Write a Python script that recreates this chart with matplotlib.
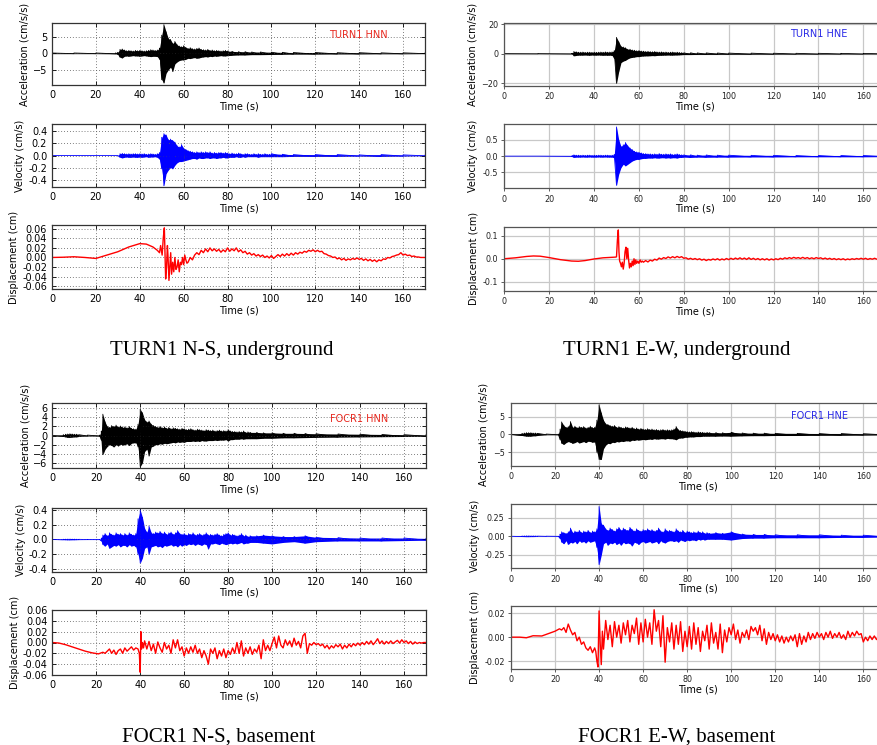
import numpy as np
import matplotlib
matplotlib.use("Agg")
import matplotlib.pyplot as plt

FIG_W, FIG_H = 878, 745

# ---------------- TURN1 (underground) ----------------
# acceleration N-S, envelope knots (cm/s/s)
acc_tn_t = np.r_[[0, 10, 20, 29, 30], np.arange(31, 81), [82, 85, 88, 91, 95, 100, 105, 110, 120, 130, 140, 150, 160, 170]]
acc_tn_hi = [0.1, 0.1, 0.1, 0.15, 0.3,
             1.2, 1.3, 1.0, 0.8, 0.9, 0.8, 0.7, 0.9, 0.8, 0.9,
             0.8, 0.7, 0.8, 0.9, 1.1, 1.0, 0.9, 1.0, 1.6, 5.5,
             8.7, 6.5, 4.5, 4.2, 3.0, 3.6, 2.6, 2.2, 2.0, 2.3,
             1.8, 1.5, 1.7, 1.4, 1.3, 1.5, 1.6, 1.2, 1.1, 1.0,
             1.2, 0.9, 1.0, 0.8, 0.9, 0.8, 0.7, 0.8, 0.9, 0.7,
             0.6, 0.5, 0.5, 0.4, 0.4, 0.35, 0.3, 0.25, 0.25, 0.2, 0.2, 0.15, 0.15, 0.1]
acc_tn_lo = [-0.1, -0.1, -0.1, -0.15, -0.3,
             -1.2, -1.4, -0.9, -0.8, -0.9, -0.8, -0.7, -0.8, -0.8, -0.9,
             -0.8, -0.7, -0.8, -0.9, -1.0, -0.9, -0.9, -1.0, -1.8, -8.0,
             -9.0, -6.0, -5.0, -4.2, -5.5, -3.2, -2.6, -2.2, -2.0, -2.0,
             -1.8, -1.5, -1.6, -1.4, -1.3, -1.5, -1.4, -1.2, -1.1, -1.0,
             -1.1, -0.9, -1.0, -0.8, -0.9, -0.8, -0.7, -0.8, -0.8, -0.7,
             -0.6, -0.5, -0.5, -0.4, -0.4, -0.35, -0.3, -0.25, -0.25, -0.2, -0.2, -0.15, -0.15, -0.1]

# velocity N-S (cm/s)
vel_tn_t = np.r_[[0, 30], np.arange(31, 101), [105, 110, 120, 130, 140, 150, 160, 170]]
vel_tn_hi = [0.0, 0.0,
             0.03, 0.035, 0.03, 0.025, 0.03, 0.025, 0.03, 0.03, 0.025, 0.03,
             0.025, 0.03, 0.02, 0.025, 0.03, 0.025, 0.02, 0.03, 0.05, 0.30,
             0.36, 0.34, 0.26, 0.27, 0.25, 0.22, 0.16, 0.14, 0.18, 0.12,
             0.10, 0.08, 0.07, 0.06, 0.05, 0.06, 0.05, 0.06, 0.05, 0.06,
             0.05, 0.06, 0.04, 0.05, 0.04, 0.05, 0.05, 0.04, 0.05, 0.04,
             0.03, 0.04, 0.03, 0.03, 0.04, 0.03, 0.02, 0.03, 0.03, 0.02,
             0.02, 0.03, 0.02, 0.03, 0.02, 0.02, 0.03, 0.02, 0.02, 0.03,
             0.02, 0.015, 0.015, 0.015, 0.01, 0.015, 0.01, 0.005]
vel_tn_lo = [0.0, 0.0,
             -0.03, -0.04, -0.03, -0.025, -0.03, -0.03, -0.025, -0.03, -0.03, -0.025,
             -0.03, -0.025, -0.02, -0.03, -0.025, -0.025, -0.02, -0.03, -0.06, -0.22,
             -0.50, -0.30, -0.24, -0.20, -0.22, -0.16, -0.12, -0.10, -0.10, -0.09,
             -0.08, -0.07, -0.06, -0.05, -0.05, -0.06, -0.04, -0.05, -0.05, -0.04,
             -0.04, -0.05, -0.04, -0.04, -0.05, -0.04, -0.04, -0.03, -0.04, -0.04,
             -0.03, -0.03, -0.03, -0.02, -0.03, -0.03, -0.02, -0.03, -0.02, -0.02,
             -0.02, -0.02, -0.02, -0.03, -0.02, -0.02, -0.02, -0.02, -0.02, -0.02,
             -0.02, -0.015, -0.015, -0.015, -0.01, -0.015, -0.01, -0.005]

# displacement N-S (cm)
dis_tn_t = np.r_[[0, 5, 10, 15, 20, 25, 30, 35, 40, 43, 46, 48, 49, 49.5, 50.2, 50.7, 51.2, 51.5, 51.8,
                  52.2, 52.6, 52.9, 53.3, 53.7, 54.1, 54.5, 55, 55.5, 56, 56.5, 57, 57.5, 58, 58.5,
                  59, 59.5, 60, 60.5, 61, 61.5], np.arange(62, 171)]
dis_tn_v = [0.0, 0.0005, 0.0015, 0.0, -0.002, 0.005, 0.012, 0.022, 0.029, 0.028, 0.022, 0.015, 0.01, 0.025,
            0.005, 0.04, 0.062, 0.01, -0.045, -0.02, 0.025, 0.0, -0.048, -0.02, 0.01, -0.035, -0.01, -0.03,
            0.0, -0.025, -0.02, -0.005, -0.03, -0.01, -0.015, 0.0, -0.015, 0.005, -0.005, -0.012,
            -0.01, 0.0, -0.005, 0.005, 0.01, 0.006, 0.015, 0.01,
            0.018, 0.012, 0.02, 0.014, 0.018, 0.013, 0.017, 0.011, 0.016, 0.012,
            0.02, 0.013, 0.018, 0.014, 0.02, 0.012, 0.016, 0.01, 0.013, 0.007,
            0.01, 0.005, 0.008, 0.003, 0.006, 0.002, 0.005, 0.0, 0.003, -0.001,
            0.004, -0.002, 0.002, 0.006, 0.002, 0.007, 0.003, 0.008, 0.004, 0.009,
            0.005, 0.01, 0.007, 0.011, 0.009, 0.013, 0.011, 0.015, 0.013, 0.016,
            0.012, 0.015, 0.012, 0.013, 0.008, 0.007, 0.004, 0.003, 0.0, 0.001,
            -0.003, -0.001, -0.005, -0.002, -0.006, -0.003, -0.005, -0.002, -0.004, -0.001,
            -0.004, -0.002, -0.006, -0.003, -0.007, -0.004, -0.008, -0.005, -0.009, -0.005,
            -0.007, -0.003, -0.004, 0.0, -0.001, 0.002, 0.003, 0.005, 0.006, 0.01,
            0.005, 0.007, 0.004, 0.005, 0.002, 0.003, 0.001, 0.001, 0.0, 0.0,
            0.0]

# acceleration E-W
acc_te_t = np.r_[[0, 15, 30, 30.5], np.arange(31, 81), [83, 86, 90, 95, 100, 110, 120, 130, 140, 150, 160, 170]]
acc_te_hi = [0.05, 0.05, 0.1, 0.3,
             1.5, 1.3, 1.0, 1.0, 1.1, 0.9, 1.0, 1.0, 0.9, 1.0,
             0.9, 1.0, 1.1, 1.0, 1.2, 1.0, 1.1, 1.2, 2.0, 11.0,
             8.0, 5.0, 4.5, 4.0, 3.0, 3.0, 2.5, 2.3, 2.0, 2.2,
             1.8, 1.7, 1.5, 1.6, 1.4, 1.3, 1.5, 1.2, 1.1, 1.2,
             1.0, 1.1, 0.9, 1.0, 1.1, 0.9, 1.0, 0.8, 0.7, 0.6,
             0.6, 0.5, 0.5, 0.45, 0.4, 0.35, 0.3, 0.25, 0.25, 0.2, 0.2, 0.15]
acc_te_lo = [-0.05, -0.05, -0.1, -0.3,
             -1.5, -1.2, -1.0, -1.0, -1.0, -0.9, -1.0, -1.1, -0.9, -1.0,
             -1.0, -0.9, -1.0, -1.1, -1.0, -1.1, -1.0, -1.2, -3.0, -20.0,
             -12.0, -6.0, -5.0, -4.5, -3.5, -2.8, -2.5, -2.3, -2.0, -2.0,
             -1.7, -1.6, -1.5, -1.5, -1.4, -1.3, -1.4, -1.2, -1.1, -1.1,
             -1.0, -1.0, -0.9, -1.0, -1.0, -0.9, -0.9, -0.8, -0.7, -0.6,
             -0.6, -0.5, -0.5, -0.45, -0.4, -0.35, -0.3, -0.25, -0.25, -0.2, -0.2, -0.15]

# velocity E-W
vel_te_t = acc_te_t
vel_te_hi = [0.0, 0.0, 0.005, 0.02,
             0.04, 0.03, 0.03, 0.025, 0.03, 0.025, 0.03, 0.03, 0.025, 0.03,
             0.025, 0.03, 0.03, 0.025, 0.03, 0.03, 0.025, 0.03, 0.05, 0.90,
             0.50, 0.30, 0.35, 0.42, 0.32, 0.25, 0.20, 0.15, 0.13, 0.12,
             0.10, 0.08, 0.08, 0.07, 0.07, 0.06, 0.07, 0.06, 0.08, 0.06,
             0.06, 0.07, 0.06, 0.07, 0.05, 0.06, 0.07, 0.05, 0.04, 0.04,
             0.04, 0.03, 0.035, 0.03, 0.03, 0.025, 0.025, 0.02, 0.02, 0.02, 0.02, 0.015]
vel_te_lo = [0.0, 0.0, -0.005, -0.02,
             -0.04, -0.03, -0.03, -0.03, -0.025, -0.03, -0.03, -0.025, -0.03, -0.03,
             -0.03, -0.025, -0.03, -0.03, -0.025, -0.03, -0.03, -0.03, -0.05, -0.90,
             -0.55, -0.35, -0.25, -0.30, -0.25, -0.20, -0.15, -0.12, -0.10, -0.10,
             -0.08, -0.07, -0.07, -0.06, -0.06, -0.06, -0.05, -0.06, -0.06, -0.05,
             -0.05, -0.06, -0.05, -0.06, -0.05, -0.05, -0.06, -0.04, -0.04, -0.03,
             -0.04, -0.03, -0.035, -0.03, -0.03, -0.025, -0.025, -0.02, -0.02, -0.02, -0.02, -0.015]

# displacement E-W
dis_te_t = np.r_[[0, 5, 10, 13, 16, 20, 25, 30, 33, 36, 40, 44, 48, 49.5, 50, 50.4, 50.8, 51.1, 51.4, 51.8,
                  52.2, 52.6, 53.0, 53.4, 53.8, 54.2, 54.6, 55.0, 55.4, 55.8, 56.2, 56.6, 57.0, 57.4, 57.8,
                  58.2, 58.6, 59.0, 59.5, 60, 60.5, 61, 61.5], np.arange(62, 171)]
dis_te_v = [0.0, 0.004, 0.01, 0.012, 0.011, 0.005, -0.004, -0.01, -0.011, -0.008, -0.001, 0.004, 0.006,
            0.007, 0.008, 0.08, 0.125, 0.03, -0.01, -0.02, -0.035, -0.015, -0.045, -0.02, 0.03, 0.05,
            0.0, 0.045, -0.005, -0.04, -0.02, -0.035, -0.01, -0.03, 0.0, -0.025, -0.005, -0.02, -0.01,
            -0.02, -0.005, -0.015, -0.01,
            -0.015, -0.008, -0.014, -0.006, -0.01, -0.002, -0.006, 0.003,
            -0.002, 0.005, 0.001, 0.008, 0.003, 0.009, 0.004, 0.01, 0.005, 0.009,
            0.002, 0.004, -0.002, 0.002, -0.003, 0.001, -0.004, 0.0, -0.006, -0.002,
            -0.008, -0.003, -0.006, -0.001, -0.005, 0.0, -0.006, -0.001, -0.005, 0.001,
            -0.004, 0.002, -0.003, 0.003, -0.002, 0.004, -0.002, 0.003, -0.003, 0.004,
            -0.003, 0.002, -0.004, 0.001, -0.005, 0.0, -0.005, 0.0, -0.006, -0.001,
            -0.005, 0.0, -0.004, 0.002, -0.002, 0.004, 0.0, 0.005, 0.001, 0.006,
            0.002, 0.005, 0.001, 0.006, 0.001, 0.005, 0.0, 0.004, 0.0, 0.005,
            0.001, 0.004, -0.001, 0.003, -0.002, 0.002, -0.003, 0.001, -0.004, 0.0,
            -0.004, 0.0, -0.005, -0.001, -0.004, 0.0, -0.003, 0.001, -0.002, 0.002,
            -0.002, 0.002, -0.003, 0.001, -0.002, 0.002, -0.002, 0.001, 0.0, 0.0,
            0.0]

# ---------------- FOCR1 (basement) ----------------
acc_fn_t = np.r_[[0, 5, 6, 7, 8, 9, 10, 11, 12, 16, 21.5, 22.3], np.arange(23, 91),
                 [93, 96, 100, 105, 110, 115, 120, 130, 140, 150, 160, 170]]
acc_fn_hi = [0.05, 0.2, 0.3, 0.35, 0.4, 0.35, 0.3, 0.3, 0.2, 0.1, 0.1, 1.0,
             4.7, 3.0, 2.0, 1.8, 2.2, 2.0, 2.3, 1.9, 2.1, 1.8,
             1.9, 1.7, 2.0, 1.6, 1.5, 1.4, 2.5, 5.8, 5.0, 3.5,
             3.0, 3.2, 2.5, 2.2, 2.0, 1.8, 2.0, 1.7, 1.9, 1.6,
             1.8, 1.5, 1.7, 1.6, 1.5, 1.4, 1.6, 1.5, 1.3, 1.4,
             1.5, 1.3, 1.2, 1.4, 1.3, 1.2, 1.1, 1.3, 1.2, 1.1,
             1.2, 1.0, 1.1, 1.2, 1.0, 1.1, 1.0, 1.3, 1.0, 0.9,
             0.9, 0.8, 0.9, 0.8, 1.0, 0.7, 0.8, 0.7,
             0.7, 0.6, 0.6, 0.5, 0.5, 0.45, 0.4, 0.35, 0.3, 0.25, 0.2, 0.15]
acc_fn_lo = [-0.05, -0.2, -0.3, -0.4, -0.4, -0.35, -0.3, -0.3, -0.2, -0.1, -0.1, -1.0,
             -4.2, -3.0, -2.4, -2.0, -2.2, -2.5, -2.0, -2.3, -1.9, -2.1,
             -2.0, -1.8, -2.2, -1.7, -1.6, -1.6, -2.5, -6.8, -6.0, -3.5,
             -3.0, -4.5, -2.5, -2.3, -2.0, -2.0, -1.8, -1.9, -1.7, -1.8,
             -1.7, -1.6, -1.5, -1.6, -1.4, -1.5, -1.4, -1.5, -1.3, -1.3,
             -1.3, -1.2, -1.3, -1.2, -1.3, -1.1, -1.2, -1.2, -1.1, -1.1,
             -1.1, -1.0, -1.1, -1.0, -1.0, -1.0, -0.9, -1.2, -0.9, -0.9,
             -0.8, -0.8, -0.8, -0.7, -0.8, -0.7, -0.7, -0.7,
             -0.7, -0.6, -0.6, -0.5, -0.5, -0.45, -0.4, -0.35, -0.3, -0.25, -0.2, -0.15]

vel_fn_t = acc_fn_t
vel_fn_hi = [0.0, 0.003, 0.004, 0.005, 0.005, 0.004, 0.004, 0.003, 0.002, 0.001, 0.001, 0.02,
             0.06, 0.08, 0.05, 0.09, 0.07, 0.06, 0.09, 0.07, 0.08, 0.06,
             0.08, 0.06, 0.09, 0.07, 0.06, 0.08, 0.28, 0.40, 0.30, 0.15,
             0.10, 0.18, 0.09, 0.08, 0.10, 0.09, 0.11, 0.08, 0.10, 0.07,
             0.09, 0.10, 0.07, 0.09, 0.12, 0.08, 0.07, 0.08, 0.06, 0.08,
             0.07, 0.09, 0.06, 0.07, 0.08, 0.06, 0.07, 0.09, 0.06, 0.07,
             0.06, 0.07, 0.08, 0.06, 0.05, 0.07, 0.08, 0.09, 0.06, 0.07,
             0.06, 0.05, 0.06, 0.08, 0.05, 0.06, 0.04, 0.05,
             0.05, 0.06, 0.05, 0.04, 0.04, 0.05, 0.03, 0.025, 0.02, 0.02, 0.02, 0.015]
vel_fn_lo = [0.0, -0.003, -0.004, -0.005, -0.005, -0.004, -0.004, -0.003, -0.002, -0.001, -0.001, -0.02,
             -0.07, -0.09, -0.06, -0.12, -0.10, -0.08, -0.09, -0.07, -0.10, -0.08,
             -0.08, -0.10, -0.07, -0.09, -0.08, -0.10, -0.20, -0.32, -0.25, -0.12,
             -0.10, -0.20, -0.10, -0.09, -0.08, -0.10, -0.09, -0.11, -0.08, -0.09,
             -0.08, -0.07, -0.09, -0.08, -0.10, -0.07, -0.09, -0.07, -0.08, -0.06,
             -0.07, -0.06, -0.08, -0.06, -0.07, -0.08, -0.06, -0.07, -0.13, -0.06,
             -0.06, -0.05, -0.06, -0.07, -0.05, -0.06, -0.07, -0.06, -0.05, -0.06,
             -0.05, -0.06, -0.05, -0.04, -0.06, -0.05, -0.05, -0.04,
             -0.04, -0.05, -0.06, -0.04, -0.03, -0.05, -0.03, -0.02, -0.02, -0.02, -0.015, -0.01]

dis_fn_t = np.r_[[0, 3, 6, 9, 12, 15, 18, 21, 23, 24, 25, 26, 27, 28, 29, 30, 31, 32, 33, 34, 35, 36, 37,
                  38, 39, 39.6, 40.0, 40.3, 40.6, 41, 41.5, 42], np.arange(43, 171)]
dis_fn_v = [0.0, -0.001, -0.004, -0.008, -0.012, -0.016, -0.019, -0.021, -0.018, -0.02, -0.016, -0.012,
            -0.02, -0.014, -0.022, -0.015, -0.012, -0.02, -0.01, -0.016, -0.012, -0.008, -0.014, -0.01,
            -0.012, -0.02, -0.055, 0.02, -0.012, 0.0, -0.01, 0.003,
            -0.012, 0.002, -0.015, -0.003, -0.02, 0.001, -0.01, -0.018, 0.0, -0.012,
            -0.005, -0.02, 0.005, -0.01, 0.005, -0.015, -0.008, -0.025, -0.01, -0.02,
            -0.008, -0.018, -0.005, -0.02, -0.012, -0.028, -0.015, -0.025, -0.04, -0.012,
            -0.02, -0.01, -0.03, -0.015, -0.025, -0.012, -0.028, -0.015, -0.022, -0.01,
            -0.02, 0.0, -0.02, 0.003, -0.025, -0.01, -0.02, -0.008, -0.022, -0.012,
            -0.018, -0.005, -0.03, 0.005, -0.015, -0.005, -0.015, -0.002, 0.01, -0.01,
            0.012, -0.005, -0.01, 0.005, -0.005, 0.003, -0.008, 0.008, -0.005, 0.002,
            -0.01, 0.012, 0.017, -0.02, -0.002, -0.005, 0.0, -0.004, -0.002, -0.006,
            -0.003, -0.01, -0.005, -0.012, -0.006, -0.01, -0.004, -0.008, -0.003, -0.012,
            -0.005, -0.01, -0.003, -0.008, -0.002, -0.006, -0.001, -0.005, 0.0, -0.004,
            0.002, -0.003, 0.003, -0.004, 0.001, 0.007, -0.002, 0.003, -0.003, 0.002,
            -0.002, 0.003, -0.002, 0.001, 0.004, -0.001, 0.005, 0.0, 0.003, -0.002,
            0.002, -0.003, 0.001, -0.002, 0.0, -0.001, 0.0, 0.0]

acc_fe_t = acc_fn_t
acc_fe_hi = [0.05, 0.3, 0.4, 0.5, 0.5, 0.5, 0.4, 0.4, 0.3, 0.1, 0.1, 1.5,
             3.5, 2.5, 2.0, 2.2, 3.6, 2.0, 2.3, 1.9, 2.2, 2.0,
             2.2, 1.8, 2.0, 2.3, 1.9, 2.0, 4.0, 8.3, 6.0, 4.0,
             3.0, 2.8, 2.5, 2.3, 2.5, 2.0, 2.2, 2.0, 1.8, 2.1,
             2.0, 1.8, 2.0, 1.6, 1.8, 1.5, 1.7, 1.5, 1.4, 1.6,
             1.4, 1.5, 1.3, 1.4, 1.2, 1.3, 1.4, 1.2, 1.3, 1.2,
             1.3, 1.5, 2.2, 1.3, 1.1, 1.0, 0.9, 0.8, 0.7, 0.8,
             0.7, 0.6, 0.7, 0.6, 0.6, 0.5, 0.6, 0.5,
             0.5, 0.45, 0.6, 0.4, 0.35, 0.35, 0.3, 0.3, 0.25, 0.25, 0.2, 0.15]
acc_fe_lo = [-0.05, -0.3, -0.4, -0.5, -0.5, -0.5, -0.4, -0.4, -0.3, -0.1, -0.1, -1.5,
             -2.5, -2.8, -2.3, -2.0, -2.2, -2.5, -2.3, -2.0, -2.4, -2.2,
             -2.0, -2.3, -1.9, -2.0, -2.2, -2.1, -5.0, -7.0, -7.0, -4.0,
             -3.0, -2.5, -2.6, -2.2, -2.3, -2.0, -2.1, -1.9, -2.0, -1.8,
             -1.8, -1.9, -1.6, -1.7, -1.5, -1.6, -1.5, -1.4, -1.5, -1.4,
             -1.3, -1.4, -1.2, -1.3, -1.3, -1.2, -1.2, -1.3, -1.1, -1.2,
             -1.2, -1.3, -1.5, -1.1, -1.0, -1.0, -0.8, -0.8, -0.7, -0.7,
             -0.7, -0.6, -0.6, -0.6, -0.5, -0.5, -0.5, -0.5,
             -0.5, -0.45, -0.5, -0.4, -0.35, -0.35, -0.3, -0.3, -0.25, -0.25, -0.2, -0.15]

vel_fe_t = acc_fn_t
vel_fe_hi = [0.0, 0.003, 0.004, 0.005, 0.005, 0.004, 0.004, 0.003, 0.002, 0.001, 0.001, 0.03,
             0.06, 0.05, 0.04, 0.06, 0.11, 0.05, 0.07, 0.06, 0.08, 0.05,
             0.07, 0.06, 0.08, 0.05, 0.07, 0.06, 0.10, 0.40, 0.17, 0.15,
             0.10, 0.08, 0.11, 0.09, 0.07, 0.10, 0.12, 0.08, 0.11, 0.09,
             0.08, 0.12, 0.09, 0.07, 0.10, 0.08, 0.07, 0.09, 0.08, 0.10,
             0.08, 0.09, 0.07, 0.08, 0.11, 0.07, 0.06, 0.10, 0.07, 0.08,
             0.07, 0.06, 0.10, 0.07, 0.06, 0.08, 0.05, 0.07, 0.06, 0.05,
             0.06, 0.05, 0.07, 0.05, 0.06, 0.04, 0.05, 0.04,
             0.05, 0.04, 0.06, 0.03, 0.025, 0.025, 0.02, 0.02, 0.02, 0.015, 0.015, 0.01]
vel_fe_lo = [0.0, -0.003, -0.004, -0.005, -0.005, -0.004, -0.004, -0.003, -0.002, -0.001, -0.001, -0.03,
             -0.08, -0.10, -0.06, -0.11, -0.08, -0.09, -0.07, -0.10, -0.06, -0.08,
             -0.07, -0.09, -0.06, -0.08, -0.07, -0.06, -0.15, -0.38, -0.25, -0.10,
             -0.08, -0.12, -0.09, -0.10, -0.08, -0.11, -0.09, -0.12, -0.08, -0.10,
             -0.09, -0.10, -0.13, -0.08, -0.09, -0.11, -0.08, -0.07, -0.09, -0.08,
             -0.07, -0.09, -0.08, -0.07, -0.10, -0.06, -0.08, -0.09, -0.07, -0.06,
             -0.06, -0.07, -0.06, -0.08, -0.05, -0.06, -0.07, -0.05, -0.06, -0.05,
             -0.05, -0.06, -0.04, -0.05, -0.04, -0.05, -0.04, -0.04,
             -0.04, -0.04, -0.05, -0.03, -0.025, -0.025, -0.02, -0.02, -0.02, -0.015, -0.015, -0.01]

dis_fe_t = np.r_[[0, 4, 7, 10, 14, 17, 20, 22, 23, 24, 25, 26, 27, 28, 29, 30, 31, 32, 33, 34, 35, 36, 37,
                  38, 38.5, 39, 39.5, 40, 40.5, 41, 41.5, 42], np.arange(43, 171)]
dis_fe_v = [0.0, 0.0, -0.0005, 0.0012, 0.001, 0.003, 0.005, 0.007, 0.006, 0.008, 0.004, 0.011, 0.006,
            0.002, 0.004, -0.003, 0.0, -0.006, -0.004, -0.009, -0.011, -0.008, -0.013, -0.009, -0.012,
            -0.02, -0.025, 0.022, -0.005, -0.023, 0.005, -0.01,
            0.014, -0.002, 0.01, -0.008, 0.013, 0.0, 0.01, -0.005, 0.012, 0.002,
            0.014, -0.004, 0.01, 0.003, 0.016, -0.006, 0.012, -0.004, 0.015, 0.0,
            0.012, -0.006, 0.023, 0.005, 0.014, -0.008, 0.018, -0.021, 0.008, -0.004,
            0.012, -0.01, 0.01, -0.006, 0.013, -0.012, 0.005, -0.008, 0.009, -0.01,
            0.012, -0.006, 0.008, -0.012, 0.005, -0.003, 0.01, -0.01, 0.012, -0.005,
            0.004, -0.01, 0.011, -0.013, 0.006, -0.004, 0.008, 0.002, 0.011, -0.002,
            0.006, -0.005, 0.004, 0.0, 0.006, -0.002, 0.009, 0.005, 0.008, 0.002,
            0.01, -0.003, 0.007, -0.006, 0.004, -0.002, 0.003, -0.003, 0.002, -0.004,
            0.001, -0.005, 0.0, -0.004, 0.001, -0.003, 0.002, -0.008, 0.003, -0.006,
            0.001, -0.004, 0.004, -0.002, 0.003, -0.001, 0.004, 0.0, 0.003, -0.002,
            0.004, 0.0, 0.005, -0.001, 0.003, 0.0, 0.004, -0.001, 0.002, -0.002,
            0.005, 0.0, 0.004, 0.001, 0.005, 0.002, 0.003, -0.004, 0.0, -0.003,
            0.001, -0.002, 0.001, -0.002, 0.0, -0.001, 0.0, 0.0]

xticks = [0, 20, 40, 60, 80, 100, 120, 140, 160]


def px_axes(fig, left, right, top, bottom):
    # pixel box (origin top-left) -> figure axes
    return fig.add_axes([left / FIG_W, 1 - bottom / FIG_H, (right - left) / FIG_W, (bottom - top) / FIG_H])


def draw_dense(ax, t, hi, lo, color):
    t = np.asarray(t, float)
    hi = np.asarray(hi, float)
    lo = np.asarray(lo, float)
    ax.fill_between(t, lo, hi, color=color, lw=0)
    ax.plot(np.repeat(t, 2), np.column_stack([lo, hi]).ravel(), color=color, lw=0.6)


def style_classic(ax, yticks, ylabel, ylim):
    ax.set_xlim(0, 170)
    ax.set_ylim(*ylim)
    ax.set_xticks(xticks)
    ax.set_yticks(yticks)
    ax.grid(True, color="#555555", ls=(0, (1, 2.5)), lw=0.6)
    ax.tick_params(direction="in", top=True, right=True, labelsize=7, length=3, width=0.6)
    for s in ax.spines.values():
        s.set_color("#333333")
        s.set_linewidth(0.9)
    ax.set_xlabel("Time (s)", fontsize=7, labelpad=1)
    ax.set_ylabel(ylabel, fontsize=7, labelpad=2)


def style_modern(ax, yticks, ylabel, ylim):
    ax.set_xlim(0, 170)
    ax.set_ylim(*ylim)
    ax.set_xticks(xticks)
    ax.set_yticks(yticks)
    ax.set_axisbelow(True)
    ax.grid(True, color="#c8c8c8", ls="-", lw=0.9)
    ax.tick_params(labelsize=5.8, length=2.5, width=0.6, pad=2, colors="#444444", labelcolor="#222222")
    for s in ax.spines.values():
        s.set_color("#555555")
        s.set_linewidth(0.9)
    ax.set_xlabel("Time (s)", fontsize=7, labelpad=0)
    ax.set_ylabel(ylabel, fontsize=7, labelpad=3)


fig = plt.figure(figsize=(FIG_W / 100, FIG_H / 100), dpi=100)

# TURN1 N-S
ax = px_axes(fig, 52, 425, 23, 85)
draw_dense(ax, acc_tn_t, acc_tn_hi, acc_tn_lo, "k")
style_classic(ax, [-5, 0, 5], "Acceleration (cm/s/s)", (-9.6, 9.2))
ax.text(0.82, 0.8, "TURN1 HNN", color="#e8281e", fontsize=7, ha="center", va="center", transform=ax.transAxes)
ax = px_axes(fig, 52, 425, 124, 187)
draw_dense(ax, vel_tn_t, vel_tn_hi, vel_tn_lo, "#0000ff")
style_classic(ax, [-0.4, -0.2, 0.0, 0.2, 0.4], "Velocity (cm/s)", (-0.52, 0.52))
ax.yaxis.set_major_formatter(matplotlib.ticker.FormatStrFormatter("%.1f"))
ax = px_axes(fig, 52, 425, 225, 289)
ax.plot(dis_tn_t, dis_tn_v, color="#ff0000", lw=1.0)
style_classic(ax, [-0.06, -0.04, -0.02, 0.0, 0.02, 0.04, 0.06], "Displacement (cm)", (-0.066, 0.068))
ax.yaxis.set_major_formatter(matplotlib.ticker.FormatStrFormatter("%.2f"))

# TURN1 E-W
ax = px_axes(fig, 504.3, 504.3 + 170 * 2.244, 22.7, 86)
draw_dense(ax, acc_te_t, acc_te_hi, acc_te_lo, "k")
style_modern(ax, [-20, 0, 20], "Acceleration (cm/s/s)", (-21.8, 20.9))
ax.text(140, 13.5, "TURN1 HNE", color="#2828e6", fontsize=7, ha="center", va="center")
ax = px_axes(fig, 504.3, 504.3 + 170 * 2.244, 124, 188.3)
draw_dense(ax, vel_te_t, vel_te_hi, vel_te_lo, "#0000ff")
style_modern(ax, [-0.5, 0.0, 0.5], "Velocity (cm/s)", (-0.99, 0.99))
ax.yaxis.set_major_formatter(matplotlib.ticker.FormatStrFormatter("%.1f"))
ax = px_axes(fig, 504.3, 504.3 + 170 * 2.244, 226.7, 291)
ax.plot(dis_te_t, dis_te_v, color="#ff0000", lw=1.0)
style_modern(ax, [-0.1, 0.0, 0.1], "Displacement (cm)", (-0.14, 0.139))
ax.yaxis.set_major_formatter(matplotlib.ticker.FormatStrFormatter("%.1f"))

# FOCR1 N-S
ax = px_axes(fig, 52.3, 52.3 + 170 * 2.198, 403.3, 468.3)
draw_dense(ax, acc_fn_t, acc_fn_hi, acc_fn_lo, "k")
style_classic(ax, [-6, -4, -2, 0, 2, 4, 6], "Acceleration (cm/s/s)", (-7.2, 7.1))
ax.text(0.82, 0.76, "FOCR1 HNN", color="#e8281e", fontsize=7, ha="center", va="center", transform=ax.transAxes)
ax = px_axes(fig, 52.3, 52.3 + 170 * 2.198, 508.3, 571.7)
draw_dense(ax, vel_fn_t, vel_fn_hi, vel_fn_lo, "#0000ff")
style_classic(ax, [-0.4, -0.2, 0.0, 0.2, 0.4], "Velocity (cm/s)", (-0.437, 0.423))
ax.yaxis.set_major_formatter(matplotlib.ticker.FormatStrFormatter("%.1f"))
ax = px_axes(fig, 52.3, 52.3 + 170 * 2.198, 610, 675)
ax.plot(dis_fn_t, dis_fn_v, color="#ff0000", lw=1.0)
style_classic(ax, [-0.06, -0.04, -0.02, 0.0, 0.02, 0.04, 0.06], "Displacement (cm)", (-0.06, 0.06))
ax.yaxis.set_major_formatter(matplotlib.ticker.FormatStrFormatter("%.2f"))

# FOCR1 E-W
ax = px_axes(fig, 511, 511 + 170 * 2.202, 402.7, 466)
draw_dense(ax, acc_fe_t, acc_fe_hi, acc_fe_lo, "k")
style_modern(ax, [-5, 0, 5], "Acceleration (cm/s/s)", (-8.85, 8.9))
ax.text(140, 5.3, "FOCR1 HNE", color="#2828e6", fontsize=7, ha="center", va="center")
ax = px_axes(fig, 511, 511 + 170 * 2.202, 504.3, 568.3)
draw_dense(ax, vel_fe_t, vel_fe_hi, vel_fe_lo, "#0000ff")
style_modern(ax, [-0.25, 0.0, 0.25], "Velocity (cm/s)", (-0.43, 0.43))
ax.yaxis.set_major_formatter(matplotlib.ticker.FormatStrFormatter("%.2f"))
ax = px_axes(fig, 511, 511 + 170 * 2.202, 605.7, 669)
ax.plot(dis_fe_t, dis_fe_v, color="#ff0000", lw=1.0)
style_modern(ax, [-0.02, 0.0, 0.02], "Displacement (cm)", (-0.0267, 0.0264))
ax.yaxis.set_major_formatter(matplotlib.ticker.FormatStrFormatter("%.2f"))

# station captions
captions = ["TURN1 N-S, underground", "TURN1 E-W, underground", "FOCR1 N-S, basement", "FOCR1 E-W, basement"]
cap_xy = [(222, 350), (677, 350), (219, 737), (677, 737)]
for txt, (cx, cy) in zip(captions, cap_xy):
    fig.text(cx / FIG_W, 1 - cy / FIG_H, txt, fontsize=15, family="Liberation Serif", ha="center", va="center")

fig.savefig("out.png", dpi=100)
